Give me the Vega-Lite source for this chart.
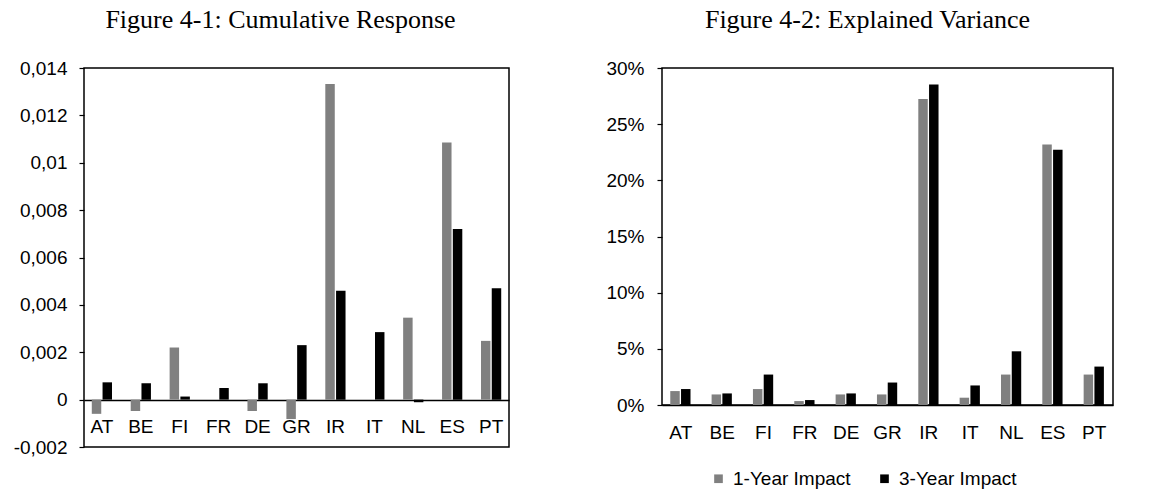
{
  "$schema": "https://vega.github.io/schema/vega-lite/v6.json",
  "background": "white",
  "padding": {"left": 12, "top": 6, "right": 5, "bottom": 0},
  "spacing": 95,
  "resolve": {"scale": {"color": "independent"}, "legend": {"color": "independent"}},
  "config": {
    "locale": {"number": {"decimal": ",", "thousands": ".", "grouping": [3], "currency": ["", ""], "minus": "-", "percent": "%"}},
    "view": {"stroke": "black", "strokeWidth": 1.5},
    "axis": {"labelFont": "Liberation Sans", "labelFontSize": 19, "labelColor": "black", "grid": false, "title": null, "domainColor": "black", "tickColor": "black", "tickSize": 5, "tickWidth": 1.2, "domainWidth": 1.5},
    "title": {"font": "Liberation Serif", "fontSize": 26, "fontWeight": "normal", "color": "black", "baseline": "alphabetic", "anchor": "middle", "frame": "group"},
    "legend": {"labelFont": "Liberation Sans", "labelFontSize": 19, "labelColor": "black"}
  },
  "hconcat": [
    {
      "title": {"text": "Figure 4-1: Cumulative Response", "dx": -16, "offset": 26},
      "width": 425,
      "height": 379,
      "data": {"values": [
        {"country": "AT", "horizon": "1-Year Impact", "value": -0.0006},
        {"country": "AT", "horizon": "3-Year Impact", "value": 0.00073},
        {"country": "BE", "horizon": "1-Year Impact", "value": -0.00048},
        {"country": "BE", "horizon": "3-Year Impact", "value": 0.00069},
        {"country": "FI", "horizon": "1-Year Impact", "value": 0.0022},
        {"country": "FI", "horizon": "3-Year Impact", "value": 0.00013},
        {"country": "FR", "horizon": "1-Year Impact", "value": 0.0},
        {"country": "FR", "horizon": "3-Year Impact", "value": 0.00049},
        {"country": "DE", "horizon": "1-Year Impact", "value": -0.00048},
        {"country": "DE", "horizon": "3-Year Impact", "value": 0.00069},
        {"country": "GR", "horizon": "1-Year Impact", "value": -0.00082},
        {"country": "GR", "horizon": "3-Year Impact", "value": 0.0023},
        {"country": "IR", "horizon": "1-Year Impact", "value": 0.01332},
        {"country": "IR", "horizon": "3-Year Impact", "value": 0.0046},
        {"country": "IT", "horizon": "1-Year Impact", "value": 0.0},
        {"country": "IT", "horizon": "3-Year Impact", "value": 0.00285},
        {"country": "NL", "horizon": "1-Year Impact", "value": 0.00346},
        {"country": "NL", "horizon": "3-Year Impact", "value": -0.00011},
        {"country": "ES", "horizon": "1-Year Impact", "value": 0.01085},
        {"country": "ES", "horizon": "3-Year Impact", "value": 0.0072},
        {"country": "PT", "horizon": "1-Year Impact", "value": 0.00248},
        {"country": "PT", "horizon": "3-Year Impact", "value": 0.0047}
      ]},
      "mark": {"type": "bar"},
      "encoding": {
        "x": {"field": "country", "type": "nominal", "sort": null, "scale": {"paddingInner": 0.48},
              "axis": {"labelAngle": 0, "ticks": false, "offset": -47, "labelPadding": 17}},
        "xOffset": {"field": "horizon", "type": "nominal", "scale": {"paddingInner": 0.12}},
        "y": {"field": "value", "type": "quantitative", "scale": {"domain": [-0.002, 0.014], "nice": false, "zero": false},
              "axis": {"values": [-0.002, 0, 0.002, 0.004, 0.006, 0.008, 0.01, 0.012, 0.014], "format": ".3~f", "domain": false, "labelPadding": 12}},
        "color": {"field": "horizon", "type": "nominal", "scale": {"range": ["#808080", "#000000"]}, "legend": null}
      }
    },
    {
      "title": {"text": "Figure 4-2: Explained Variance", "dx": -20, "offset": 26},
      "width": 451,
      "height": 337,
      "data": {"values": [
        {"country": "AT", "horizon": "1-Year Impact", "value": 0.0124},
        {"country": "AT", "horizon": "3-Year Impact", "value": 0.0142},
        {"country": "BE", "horizon": "1-Year Impact", "value": 0.0094},
        {"country": "BE", "horizon": "3-Year Impact", "value": 0.0103},
        {"country": "FI", "horizon": "1-Year Impact", "value": 0.0142},
        {"country": "FI", "horizon": "3-Year Impact", "value": 0.0271},
        {"country": "FR", "horizon": "1-Year Impact", "value": 0.0035},
        {"country": "FR", "horizon": "3-Year Impact", "value": 0.0044},
        {"country": "DE", "horizon": "1-Year Impact", "value": 0.0094},
        {"country": "DE", "horizon": "3-Year Impact", "value": 0.0103},
        {"country": "GR", "horizon": "1-Year Impact", "value": 0.0094},
        {"country": "GR", "horizon": "3-Year Impact", "value": 0.02},
        {"country": "IR", "horizon": "1-Year Impact", "value": 0.2723},
        {"country": "IR", "horizon": "3-Year Impact", "value": 0.2853},
        {"country": "IT", "horizon": "1-Year Impact", "value": 0.0065},
        {"country": "IT", "horizon": "3-Year Impact", "value": 0.0174},
        {"country": "NL", "horizon": "1-Year Impact", "value": 0.0271},
        {"country": "NL", "horizon": "3-Year Impact", "value": 0.0478},
        {"country": "ES", "horizon": "1-Year Impact", "value": 0.232},
        {"country": "ES", "horizon": "3-Year Impact", "value": 0.2273},
        {"country": "PT", "horizon": "1-Year Impact", "value": 0.0271},
        {"country": "PT", "horizon": "3-Year Impact", "value": 0.0342}
      ]},
      "mark": {"type": "bar"},
      "encoding": {
        "x": {"field": "country", "type": "nominal", "sort": null, "scale": {"paddingInner": 0.49},
              "axis": {"labelAngle": 0, "ticks": false, "labelPadding": 18}},
        "xOffset": {"field": "horizon", "type": "nominal", "scale": {"paddingInner": 0.12}},
        "y": {"field": "value", "type": "quantitative", "scale": {"domain": [0, 0.3], "nice": false},
              "axis": {"values": [0, 0.05, 0.1, 0.15, 0.2, 0.25, 0.3], "format": ".0%", "domain": false, "labelPadding": 13}},
        "color": {"field": "horizon", "type": "nominal", "scale": {"range": ["#808080", "#000000"]},
                  "legend": {"orient": "none", "legendX": 47, "legendY": 401, "direction": "horizontal", "title": null, "symbolType": "square", "symbolSize": 75, "symbolStrokeWidth": 0, "columnPadding": 24, "labelOffset": 5}}
      }
    }
  ]
}
